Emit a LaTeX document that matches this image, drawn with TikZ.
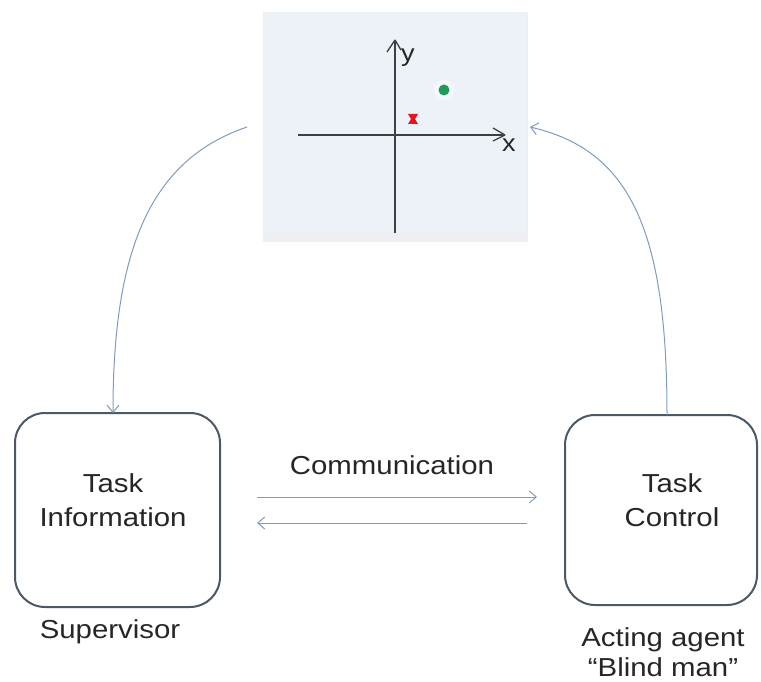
\documentclass[tikz,border=0pt]{standalone}
\usepackage{fontspec}
\setmainfont{Liberation Sans}[FakeStretch=1.13]
\usetikzlibrary{arrows.meta}
\definecolor{panelbg}{HTML}{EDF1F8}
\definecolor{panelrim}{HTML}{EFEEF3}
\definecolor{axisgray}{HTML}{3F3F3F}
\definecolor{linkblue}{HTML}{7F9CC0}
\definecolor{boxedge}{HTML}{4A5868}
\definecolor{dotgreen}{HTML}{1F9A5A}
\definecolor{markred}{HTML}{E8141E}
\definecolor{txt}{HTML}{262626}
\tikzset{
  agentbox/.style={draw=boxedge, line width=2pt, rounded corners=30pt, fill=white},
  label/.style={text=txt, font=\fontsize{26}{30}\selectfont, align=center, inner sep=0pt},
  link/.style={draw=linkblue, line width=1pt, -{Straight Barb[length=7pt,width=12pt]}},
  axis/.style={draw=axisgray, line width=1.3pt}
}
\begin{document}
\begin{tikzpicture}[x=1pt,y=-1pt]
  \useasboundingbox (0,0) rectangle (761,682);

  % coordinate sketch panel
  \fill[panelrim] (263,12) rectangle (528,242);
  \fill[panelbg] (265,12) rectangle (526,233);
  \draw[axis] (395,233) -- (395,40);
  \draw[axis] (395,40) -- ++(-8,12);
  \draw[axis] (395,40) -- ++(6,10);
  \draw[axis] (298,135) -- (505,135);
  \draw[axis] (505,135) -- ++(-12,-7);
  \draw[axis] (505,135) -- ++(-12,6);
  \node[label, font=\fontsize{24}{24}\selectfont] (ylab) at (408,58) {y};
  \node[label, font=\fontsize{24}{24}\selectfont] (xlab) at (509,145) {x};
  \fill[white, opacity=0.45] (444,90) circle (10pt);
  \node[circle, fill=dotgreen, inner sep=0pt, minimum size=11pt] (goal) at (444,90) {};
  \fill[markred] (408,114) -- (418,114) -- (415,119) -- (418,124) -- (408,124) -- (411,119) -- cycle;
  \coordinate (panelL) at (247,127);
  \coordinate (panelR) at (530,127);

  % agents
  \draw[agentbox] (15,413) rectangle (220,607);
  \draw[agentbox] (565,415) rectangle (757,605);
  \coordinate (supTop) at (113,413);
  \coordinate (actTop) at (667,415);
  \node[label, font=\fontsize{26}{34}\selectfont] (info) at (113,500) {Task\\Information};
  \node[label, font=\fontsize{26}{34}\selectfont] (ctrl) at (672,500) {Task\\Control};
  \node[label] (sup) at (110,632) {Supervisor};
  \node[label] (act) at (663,652) {Acting agent\\“Blind man”};

  % communication channel
  \node[label] (comm) at (392,465) {Communication};
  \coordinate (c1a) at (257,497);
  \coordinate (c1b) at (537,497);
  \coordinate (c2a) at (527,523);
  \coordinate (c2b) at (257,523);
  \draw[link] (c1a) -- (c1b);
  \draw[link] (c2a) -- (c2b);

  % observation and action loops
  \draw[link] (panelL) .. controls (150,160) and (113,250) .. (supTop);
  \draw[link] (actTop) .. controls (667,230) and (630,150) .. (panelR);
\end{tikzpicture}
\end{document}
